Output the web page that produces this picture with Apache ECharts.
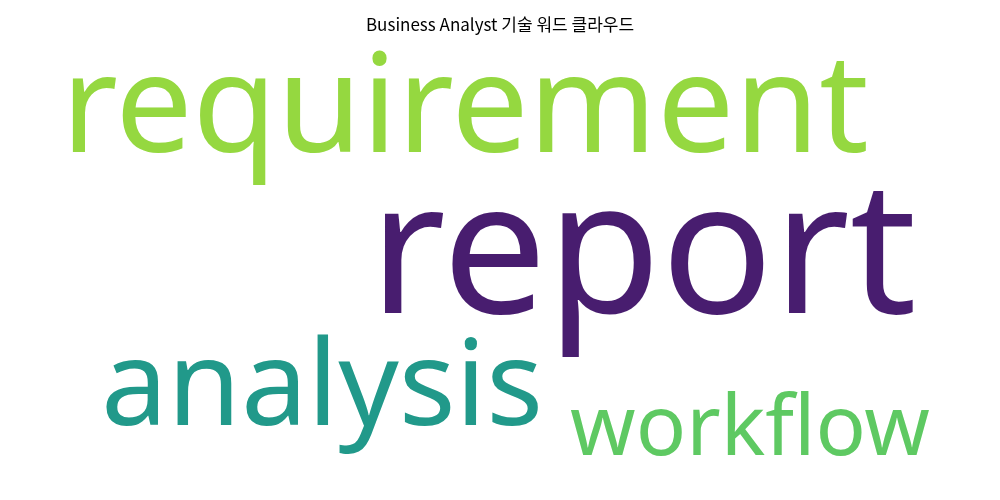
<!DOCTYPE html>
<html>
<head>
<meta charset="utf-8">
<script src="https://cdn.jsdelivr.net/npm/echarts@6/dist/echarts.min.js"></script>
<style>
    html, body { margin: 0; padding: 0; background: #fff; }
    #main { width: 1000px; height: 500px; }
</style>
</head>
<body>
<div id="main"></div>
<script>
// 단어와 빈도 (그림에서 읽은 상대적 크기)
var words = ['report', 'requirement', 'analysis', 'workflow'];
var weights = [100, 74, 64, 45];
// 워드 클라우드 배치 위치 (축 좌표, 0~1000 / 0~500)
var layoutX = [643, 465, 322, 750];
var layoutY = [260, 113, 391, 431];
var wordColors = ['#481d6f', '#95d840', '#21998a', '#5ec962'];

(function(){
    var box = document.getElementById('main')
    var myChart = echarts.init(box)

    var fontScale = 1.855  // 빈도 -> 글자 크기

    var points = words.map(function(w, i) {
        return {
            name: w,
            value: [layoutX[i], layoutY[i], weights[i]],
            label: {
                fontSize: weights[i] * fontScale,
                color: wordColors[i]
            }
        }
    })

    var option = {
        animation: false,
        title: {
            text: 'Business Analyst 기술 워드 클라우드',
            left: 'center',
            top: 11,
            textStyle: {
                fontFamily: 'Noto Sans CJK KR',
                fontWeight: 'normal',
                fontSize: 17,
                color: '#000'
            }
        },
        grid: { left: 0, right: 0, top: 0, bottom: 0 },
        xAxis: { type: 'value', min: 0, max: 1000, show: false },
        yAxis: { type: 'value', min: 0, max: 500, inverse: true, show: false },
        series: [
            {
                type: 'scatter',
                symbolSize: 0,
                itemStyle: { opacity: 1 },
                data: points,
                label: {
                    show: true,
                    position: 'inside',
                    formatter: '{b}',
                    fontFamily: 'Noto Sans'
                }
            }
        ]
    };
    myChart.setOption(option)
})();
</script>
</body>
</html>
